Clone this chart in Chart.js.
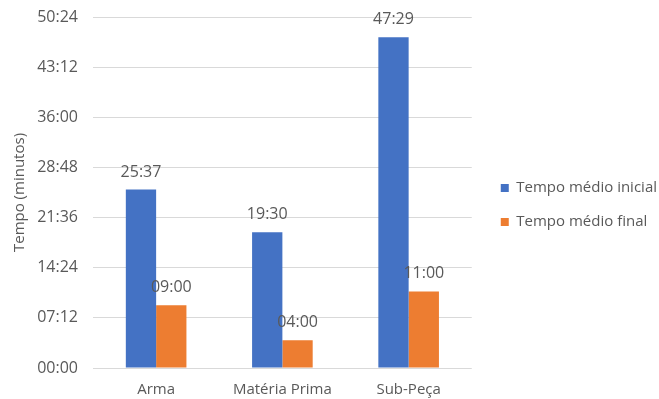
<!DOCTYPE html>
<html><head><meta charset="utf-8">
<script src="https://cdn.jsdelivr.net/npm/chart.js@4/dist/chart.umd.min.js"></script>
<style>html,body{margin:0;padding:0;background:#fff}#w{width:659px;height:399px}</style>
</head><body><div id="w"><canvas id="c"></canvas></div>
<script>
const categories = ["Arma", "Matéria Prima", "Sub-Peça"];
// values in minutes
const tempoInicial = [25 + 37/60, 19 + 30/60, 47 + 29/60];
const tempoFinal = [9, 4, 11];
const seriesNames = ["Tempo médio inicial", "Tempo médio final"];
const yTicks = [0, 7.2, 14.4, 21.6, 28.8, 36, 43.2, 50.4];

function fmt(v){
  const totalSec = Math.round(v*60);
  const m = Math.floor(totalSec/60), s = totalSec%60;
  return String(m).padStart(2,'0') + ':' + String(s).padStart(2,'0');
}
const FONT = 'Open Sans';
const GRAY = '#595959';

const labelPlugin = {
  id: 'barLabels',
  afterLayout(chart){
    const lg = chart.legend;
    if (lg) { lg.left += 10; lg.right += 10; lg.top -= 3; lg.bottom -= 3; }
  },
  afterDatasetsDraw(chart){
    const ctx = chart.ctx;
    ctx.save();
    ctx.font = '16px "' + FONT + '"';
    ctx.fillStyle = GRAY;
    ctx.textAlign = 'center';
    ctx.textBaseline = 'alphabetic';
    chart.data.datasets.forEach((ds, i) => {
      chart.getDatasetMeta(i).data.forEach((bar, j) => {
        ctx.fillText(fmt(ds.data[j]), bar.x, bar.y - 13);
      });
    });
    ctx.restore();
  }
};

new Chart(document.getElementById('c'), {
  type: 'bar',
  data: {
    labels: categories,
    datasets: [
      {label: seriesNames[0], data: tempoInicial, backgroundColor: '#4472C4'},
      {label: seriesNames[1], data: tempoFinal, backgroundColor: '#ED7D31'}
    ]
  },
  options: {
    responsive: true, maintainAspectRatio: false, animation: false,
    devicePixelRatio: 1,
    layout: {padding: {top: 17, right: 2, left: 11, bottom: 0}},
    datasets: {bar: {barPercentage: 1, categoryPercentage: 0.48}},
    plugins: {
      legend: {
        position: 'right',
        align: 'center',
        maxWidth: 240,
        labels: {boxWidth: 8, boxHeight: 8, padding: 19, color: GRAY, font: {family: FONT, size: 15}}
      },
      tooltip: {enabled: false}
    },
    scales: {
      x: {
        afterFit(axis){ axis.height = 31; },
        grid: {display: false, drawTicks: false},
        border: {display: false},
        ticks: {color: GRAY, font: {family: FONT, size: 15}, padding: 13}
      },
      y: {
        min: 0, max: 50.4,
        afterFit(axis){ axis.width = 82; axis.paddingTop = 0; axis.paddingBottom = 0; },
        afterBuildTicks(axis){ axis.ticks = yTicks.map(v => ({value: v})); },
        grid: {color: '#d9d9d9', drawTicks: false},
        border: {display: false},
        ticks: {color: GRAY, font: {family: FONT, size: 16}, padding: 15, callback: v => fmt(v)},
        title: {display: true, text: 'Tempo (minutos)', color: GRAY, font: {family: FONT, size: 15}, padding: {top: 0, bottom: 6}}
      }
    }
  },
  plugins: [labelPlugin]
});
</script></body></html>
